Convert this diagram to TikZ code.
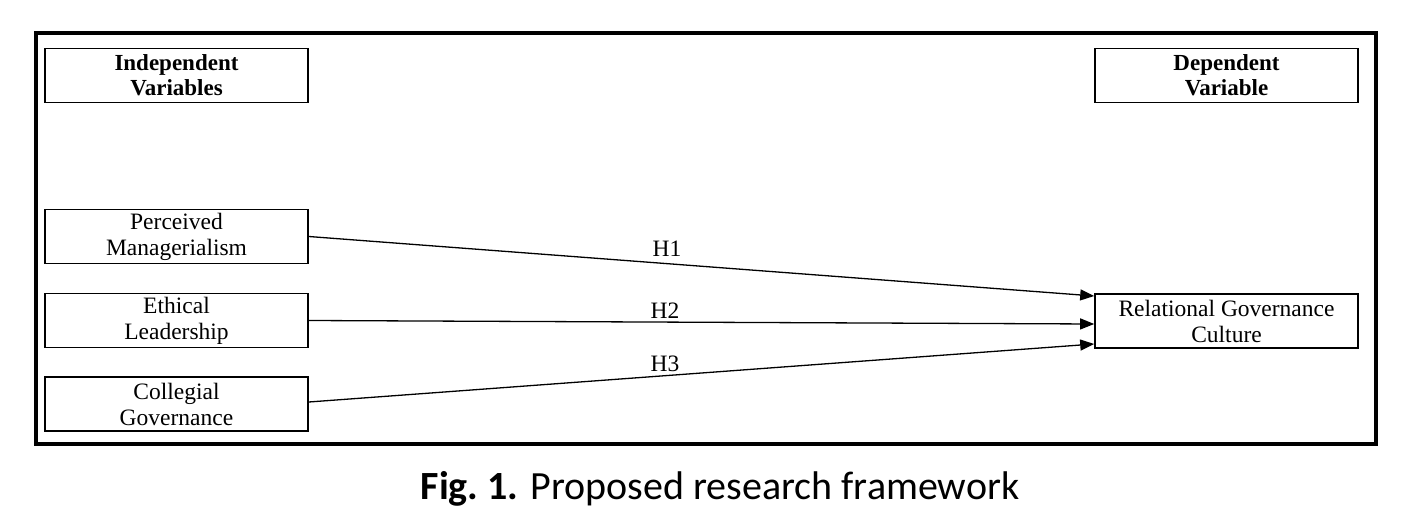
\documentclass[tikz,border=0pt]{standalone}
\usepackage{fontspec}
\setmainfont{Liberation Serif}
\newfontfamily\capfont{Carlito}
\usetikzlibrary{arrows.meta}
\tikzset{
  varbox/.style={draw, line width=1.6pt, minimum width=263pt, minimum height=54pt, align=center, inner sep=0pt, font=\fontsize{23.5}{26}\selectfont},
  hdrbox/.style={varbox, font=\fontsize{23}{25}\selectfont\bfseries},
  link/.style={line width=1.3pt, -{Triangle[length=14pt,width=11pt]}},
  hlabel/.style={font=\fontsize{23.5}{26}\selectfont, inner sep=0pt}
}
\begin{document}
\begin{tikzpicture}[x=1pt,y=-1pt]
\useasboundingbox (0,0) rectangle (1408,532);
\draw[line width=3.5pt] (36,33) rectangle (1376,444);
\node[hdrbox] (iv) at (176.5,75.5) {Independent\\Variables};
\node[hdrbox] (dv) at (1226.5,75.5) {Dependent\\Variable};
\node[varbox] (pm) at (176.5,236.5) {Perceived\\Managerialism};
\node[varbox] (el) at (176.5,320.5) {Ethical\\Leadership};
\node[varbox] (cg) at (176.5,404) {Collegial\\Governance};
\node[varbox] (rg) at (1226.5,321) {Relational Governance\\Culture};
\draw[link] (pm.east) -- ([yshift=25pt]rg.west);
\draw[link] (el.east) -- ([yshift=-3pt]rg.west);
\draw[link] ([yshift=2pt]cg.east) -- ([yshift=-23pt]rg.west);
\node[hlabel] (h1) at (667,249) {H1};
\node[hlabel] (h2) at (665,311) {H2};
\node[hlabel] (h3) at (665,364) {H3};
\node[font=\capfont\fontsize{40}{44}\selectfont, inner sep=0pt] (cap) at (720,489) {\textbf{Fig.\ 1.} Proposed research framework};
\end{tikzpicture}
\end{document}
